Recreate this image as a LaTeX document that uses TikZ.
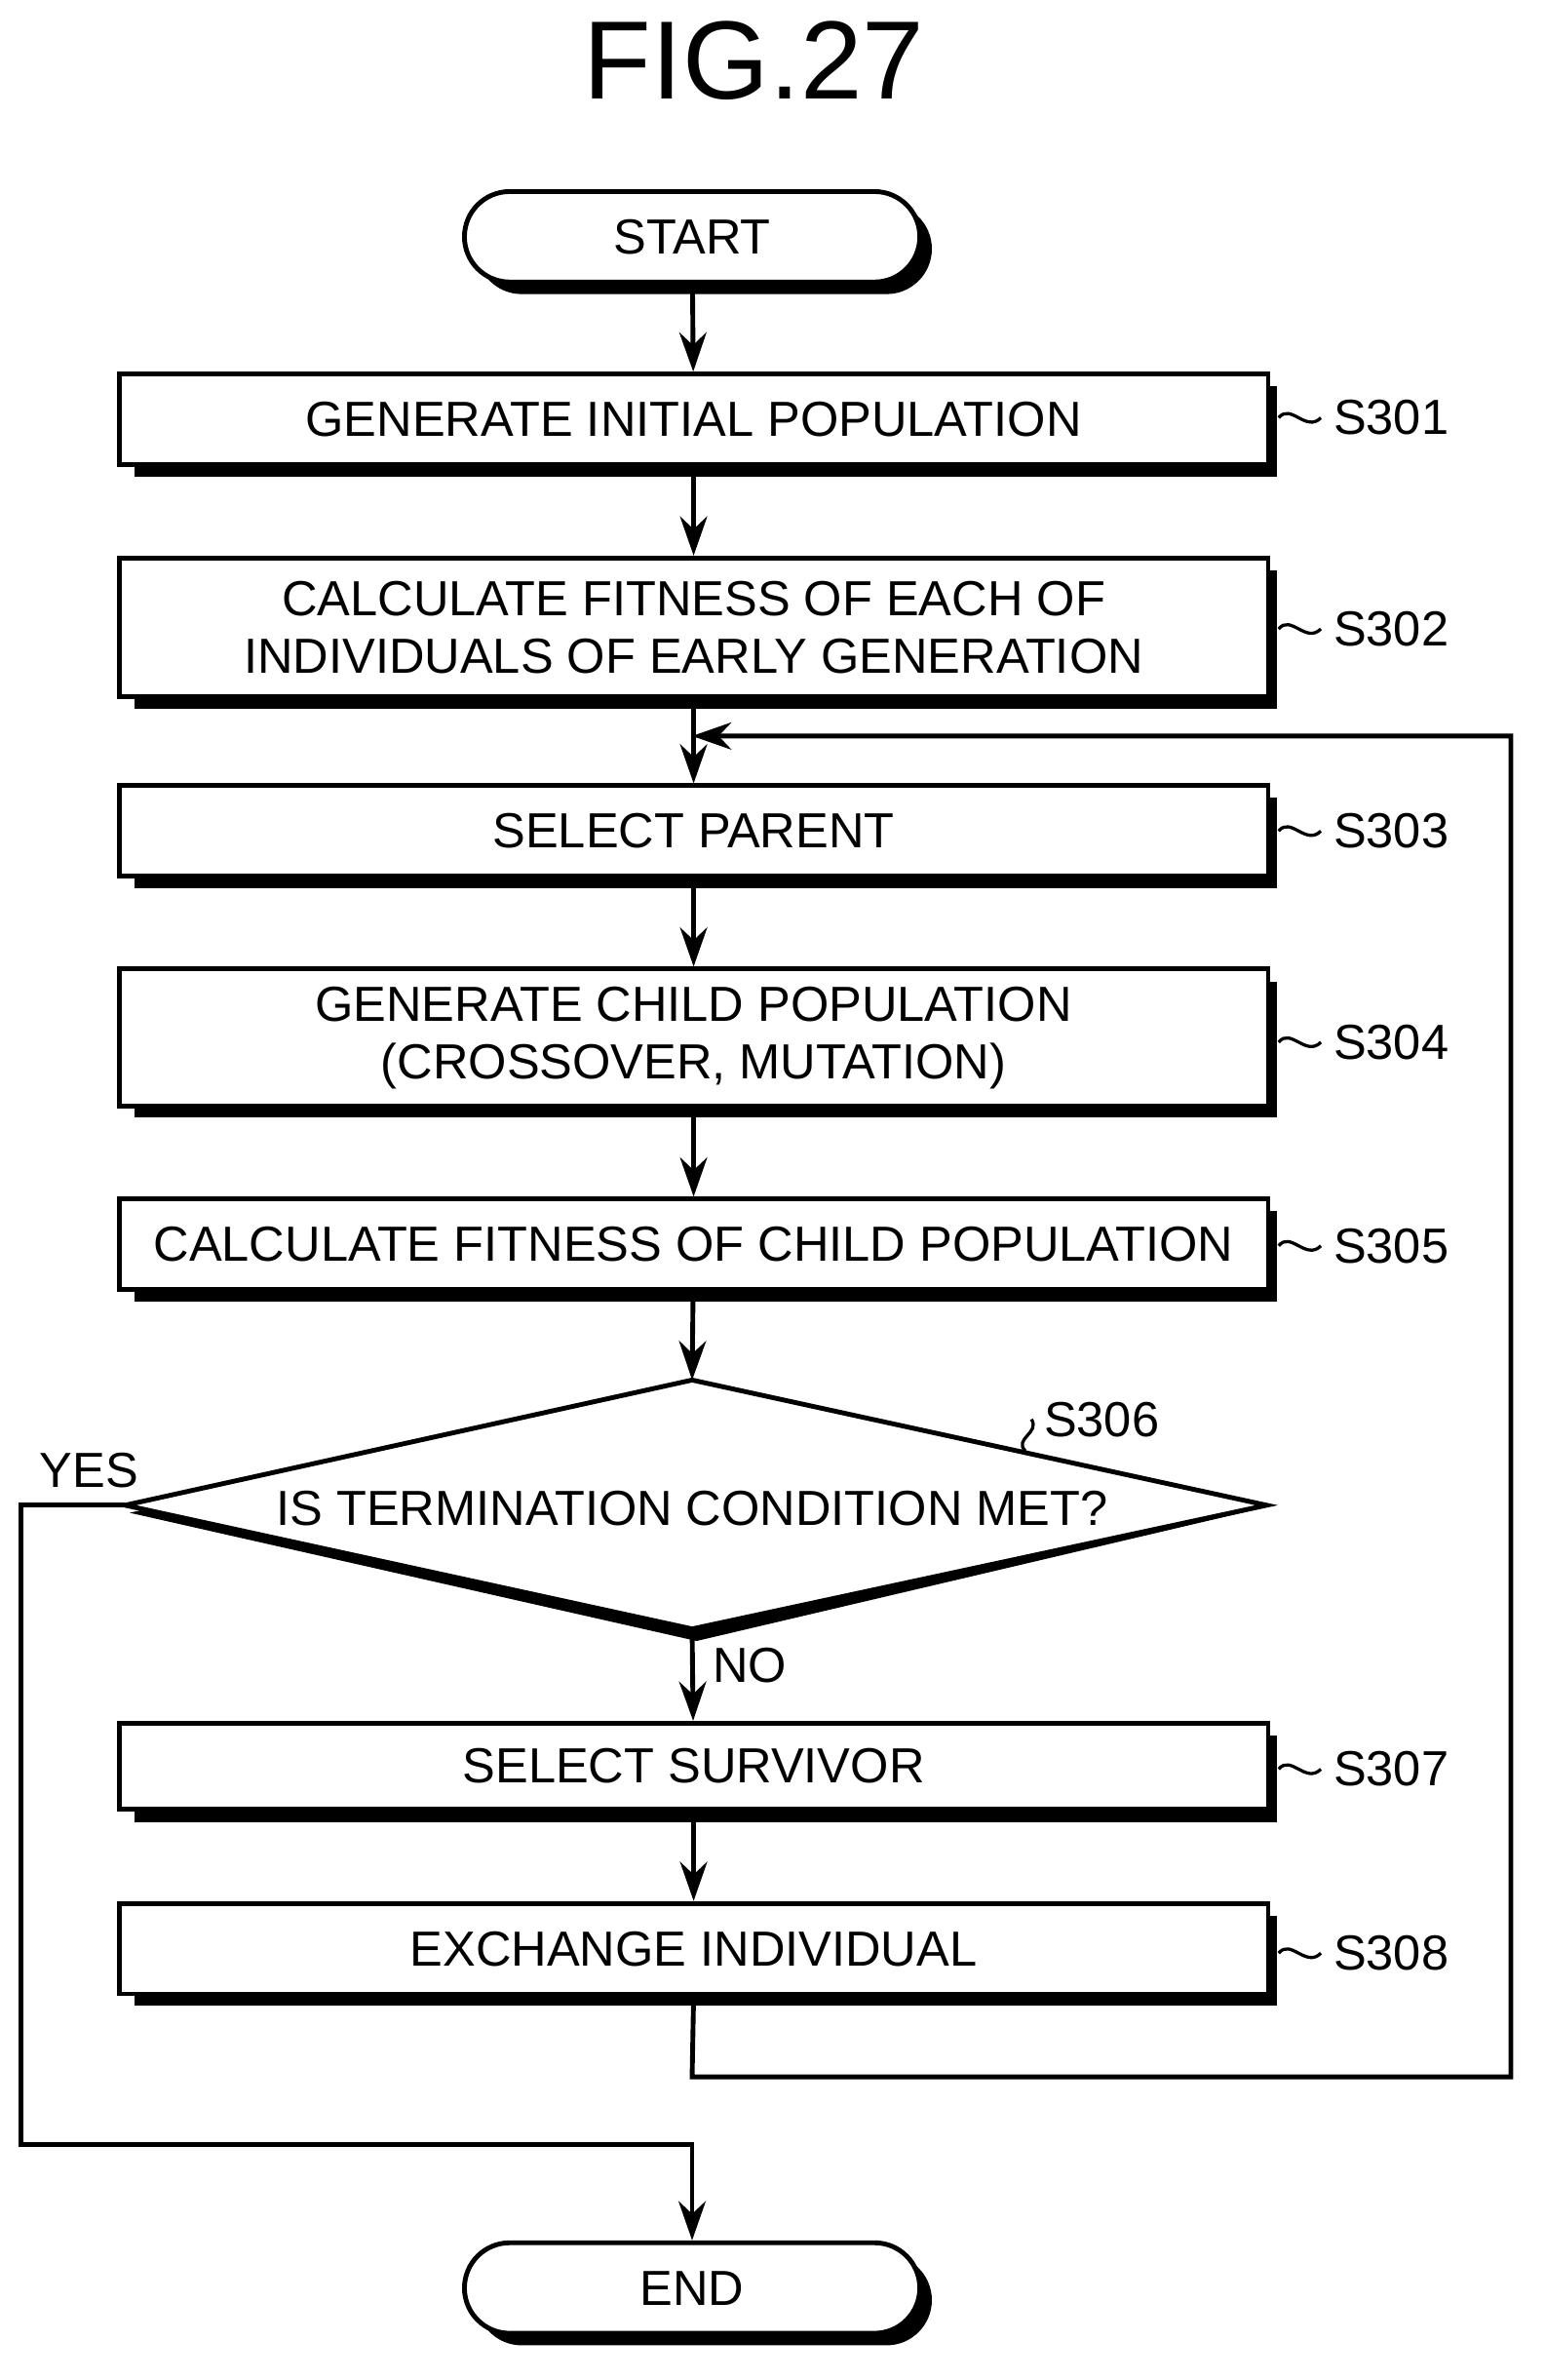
\documentclass[tikz,border=0pt]{standalone}
\usepackage{fontspec}
\setmainfont{Liberation Sans}
\usetikzlibrary{shapes.geometric,arrows.meta}
\begin{document}
\begin{tikzpicture}[x=0.1mm,y=-0.1mm,
  txt/.style={font=\fontsize{9.3}{10.8}\selectfont, align=center},
  box/.style={draw, line width=0.9pt, fill=white, minimum width=76.2mm, txt},
  arr/.style={line width=0.9pt, -{Stealth[length=2.6mm,width=1.8mm]}},
  ln/.style={line width=0.9pt},
  term/.style={draw, line width=0.9pt, fill=white, rounded corners=3mm, minimum width=30.2mm, minimum height=6mm, txt},
  lab/.style={font=\fontsize{9.3}{10.8}\selectfont, anchor=west}]
\useasboundingbox (0,0) rectangle (1024,1578);
\node[font=\fontsize{21}{24}\selectfont] (title) at (500,40) {FIG.27};
% shadows
\foreach \a/\b in {248/308,370/462,521/581,643/733,795/855,1143/1200,1262/1322}
  \fill (89,\a+8) rectangle (847,\b+8);
\fill[rounded corners=3mm] (316,135) rectangle (618,195);
\fill[rounded corners=3mm] (316,1495) rectangle (618,1555);
\fill (86,1003) -- (462,918) -- (845,998) -- (462,1088) -- cycle;
% terminals
\node[term] (start) at (459,157) {START};
\node[term] (end) at (459,1517) {END};
% boxes
\node[box, minimum height=6mm] (s301) at (460,278) {GENERATE INITIAL POPULATION};
\node[box, minimum height=9.2mm] (s302) at (460,416) {CALCULATE FITNESS OF EACH OF\\INDIVIDUALS OF EARLY GENERATION};
\node[box, minimum height=6mm] (s303) at (460,551) {SELECT PARENT};
\node[box, minimum height=9mm] (s304) at (460,688) {GENERATE CHILD POPULATION\\(CROSSOVER, MUTATION)};
\node[box, minimum height=6mm] (s305) at (460,825) {CALCULATE FITNESS OF CHILD POPULATION};
\node[box, minimum height=5.7mm] (s307) at (460,1171) {SELECT SURVIVOR};
\node[box, minimum height=6mm] (s308) at (460,1292) {EXCHANGE INDIVIDUAL};
% diamond
\coordinate (dt) at (459,915); \coordinate (db) at (459,1080);
\coordinate (dl) at (83,998); \coordinate (dr) at (840,998);
\filldraw[ln, fill=white] (dt) -- (dr) -- (db) -- (dl) -- cycle;
\node[txt] (s306) at (459,1000) {IS TERMINATION CONDITION MET?};
% arrows
\draw[arr] (start) -- (s301);
\draw[arr] (s301) -- (s302);
\draw[arr] (s302) -- (s303);
\draw[arr] (s303) -- (s304);
\draw[arr] (s304) -- (s305);
\draw[arr] (s305) -- (dt);
\draw[arr] (db) -- (s307) node[pos=0.4, right, txt] {NO};
\draw[arr] (s307) -- (s308);
\coordinate (lp) at (459,488);
\draw[arr] (s308.south) -- (459,1377) -- (1002,1377) -- (1002,488) -- (lp);
\draw[arr] (dl) -- (14,998) -- (14,1422) -- (459,1422) -- (end);
\node[txt, anchor=base west] (yes) at (14,986) {YES};
% step labels
\foreach \n/\y/\t in {s301/277/S301,s302/417/S302,s303/551/S303,s304/691/S304,s305/826/S305,s307/1173/S307,s308/1295/S308}{
  \draw[line width=0.6pt] (848,\y) .. controls (856,\y-10) and (866,\y+10) .. (876,\y);
  \node[lab] at (872,\y) {\t};}
\draw[line width=0.6pt] (680,962) .. controls (672,954) and (690,950) .. (684,941);
\node[lab] at (680,941) {S306};
\end{tikzpicture}
\end{document}
